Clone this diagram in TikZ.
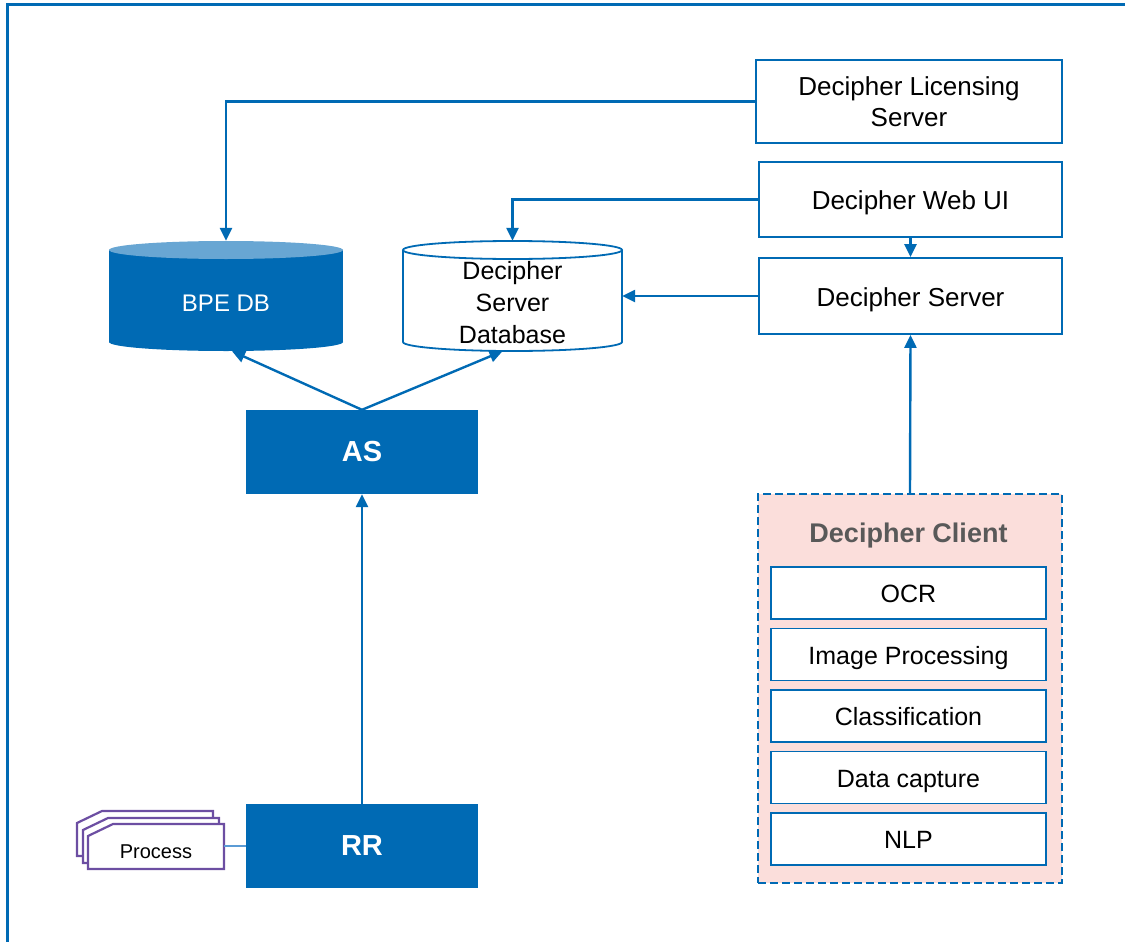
\documentclass[tikz,border=0pt]{standalone}
\usepackage{fontspec}
\setmainfont{Liberation Sans}
\usetikzlibrary{arrows.meta}
\definecolor{mblue}{RGB}{0,106,180}
\definecolor{lblue}{RGB}{104,166,211}
\definecolor{pinkbg}{RGB}{251,222,219}
\definecolor{titlegray}{RGB}{89,89,89}
\definecolor{procpurple}{RGB}{108,78,162}
\definecolor{thinblue}{RGB}{91,155,213}
\tikzset{
  wboxbase/.style={draw=mblue, line width=1.8pt, fill=white, inner sep=0pt, font=\fontsize{26}{31}\selectfont},
  wbox/.style={wboxbase, text height=20pt, text depth=0pt},
  cbox/.style={draw=mblue, line width=1.8pt, fill=white, inner sep=0pt, minimum width=275, minimum height=52, font=\fontsize{25}{30}\selectfont, text height=19.5pt, text depth=0pt},
  sbox/.style={fill=mblue, draw=none, text=white, inner sep=0pt, minimum width=232, minimum height=84, font=\bfseries\fontsize{29}{34}\selectfont},
  conn/.style={draw=mblue, line width=2.4pt, -{Triangle[length=13pt,width=12pt]}},
  procshape/.style={draw=procpurple, fill=white, line width=2.2pt, line join=miter},
  cylhold/.style={draw=none, inner sep=0pt}
}
\begin{document}
\begin{tikzpicture}[x=1pt,y=-1pt]
\useasboundingbox (0,0) rectangle (1125,942);
% frame
\draw[mblue, line width=3pt] (7.5,942) -- (7.5,5) -- (1125,5);

% right column boxes
\node[wboxbase, align=center, minimum width=306, minimum height=83] (lic) at (909,101.5) {Decipher Licensing\\Server};
\node[wbox, minimum width=303, minimum height=75] (web) at (910.5,199.5) {Decipher Web UI};
\node[wbox, minimum width=303, minimum height=76] (srv) at (910.5,296) {Decipher Server};

% client
\node[draw=mblue, dash pattern=on 8pt off 4pt, line width=1.8pt, fill=pinkbg, minimum width=304, minimum height=389, inner sep=0pt] (client) at (910,688.5) {};
\node[text=titlegray, font=\bfseries\fontsize{27}{32}\selectfont] (ctitle) at (908.5,536) {Decipher Client};
\node[cbox] (ocr) at (908.5,593) {OCR};
\node[cbox] (img) at (908.5,654.5) {Image Processing};
\node[cbox] (cls) at (908.5,716) {Classification};
\node[cbox] (dat) at (908.5,777.5) {Data capture};
\node[cbox] (nlp) at (908.5,839) {NLP};

% cylinders
\node[cylhold, minimum width=234, minimum height=110] (bpe) at (226,296) {};
\fill[mblue] (109,250) rectangle (343,342);
\fill[mblue] (226,342) ellipse [x radius=117, y radius=9];
\fill[lblue] (226,250) ellipse [x radius=117, y radius=9];
\node[text=white, font=\fontsize{24}{29}\selectfont] (bpelabel) at (226,303) {BPE DB};

\node[cylhold, minimum width=219, minimum height=110] (dsd) at (512.5,296) {};
\fill[white] (403,250) rectangle (622,342);
\fill[white] (512.5,342) ellipse [x radius=109.5, y radius=9];
\draw[mblue, line width=1.8pt] (403,250) -- (403,342) arc[start angle=180, end angle=0, x radius=109.5, y radius=9] -- (622,250);
\draw[mblue, line width=1.8pt, fill=white] (512.5,250) ellipse [x radius=109.5, y radius=9];
\node[align=center, font=\fontsize{25}{32}\selectfont] (dsdlabel) at (512.5,303) {Decipher\\Server\\Database};

% AS and RR
\node[sbox] (as) at (362,452) {AS};
\node[sbox] (rr) at (362,846) {RR};

% process stack
\draw[procshape] (77,823) -- (102,811) -- (213,811) -- (213,856) -- (77,856) -- cycle;
\draw[procshape] (83,830) -- (108,818) -- (219,818) -- (219,863) -- (83,863) -- cycle;
\draw[procshape] (88,836) -- (113,824) -- (224,824) -- (224,869) -- (88,869) -- cycle;
\node[inner sep=0pt, minimum width=136, minimum height=45, font=\fontsize{20}{24}\selectfont] (proc) at (156,852) {Process};
\draw[thinblue, line width=1.5pt] (224,846) -- (rr.west);

% connectors
\draw[conn] (lic.west) -| (bpe.north);
\draw[conn] (web.west) -| (dsd.north);
\draw[conn] (web.south) -- (srv.north);
\draw[conn] (srv.west) -- (dsd.east);
\draw[conn] (as.north) -- ([xshift=6pt]bpe.south);
\draw[conn] (as.north) -- ([xshift=-10pt]dsd.south);
\draw[conn] (rr.north) -- (as.south);
\draw[conn] (client.north) -- (srv.south);
\end{tikzpicture}
\end{document}
